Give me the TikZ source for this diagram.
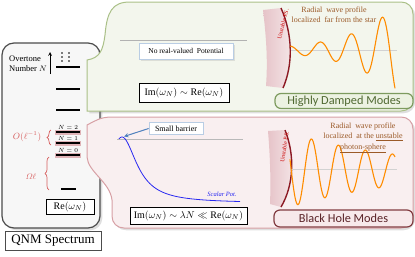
\documentclass[tikz,border=0pt]{standalone}
\usepackage{amsmath,amssymb}
\usepackage{fontspec}
\setmainfont{Liberation Serif}
\newfontfamily\modefont{Carlito}
\usetikzlibrary{decorations.pathreplacing,shadows}
\definecolor{greenedge}{RGB}{170,192,135}
\definecolor{greenfill}{RGB}{243,246,237}
\definecolor{greenbox}{RGB}{236,242,226}
\definecolor{greendark}{RGB}{125,155,95}
\definecolor{greentext}{RGB}{80,105,50}
\definecolor{pinkedge}{RGB}{215,160,165}
\definecolor{pinkfill}{RGB}{249,239,240}
\definecolor{pinkbox}{RGB}{247,233,235}
\definecolor{reddark}{RGB}{130,60,65}
\definecolor{redtext}{RGB}{90,35,40}
\definecolor{bracered}{RGB}{215,95,95}
\definecolor{wavebrown}{RGB}{155,90,40}
\definecolor{waveorange}{RGB}{255,140,0}
\definecolor{psred}{RGB}{140,25,35}
\definecolor{psfill}{RGB}{230,195,200}
\definecolor{potblue}{RGB}{40,40,240}
\definecolor{arrowblue}{RGB}{79,129,189}
\definecolor{tagblue}{RGB}{185,205,228}

\begin{document}
\begin{tikzpicture}[x=1pt, y=-1pt, >=stealth, every node/.style={font=\small},
  level/.style={line width=2.4pt},
  glow/.style={line width=5pt, draw=pinkedge!80},
  formula/.style={draw=black, fill=white, line width=0.9pt, inner sep=0pt, font=\fontsize{10}{12}\selectfont},
  tagbox/.style={draw=tagblue, fill=white, line width=0.7pt, inner sep=0pt, font=\fontsize{7.5}{9}\selectfont},
  modebox/.style={rounded corners=6pt, line width=1.2pt, inner sep=0pt, font=\modefont\fontsize{12.3}{14}\selectfont},
  wave/.style={draw=waveorange, line width=1.1pt},
  axisline/.style={draw=gray!35, line width=0.6pt},
  psarc/.style={draw=psred, line width=1.4pt},
  pstext/.style={text=red!80!black, font=\fontsize{5.8}{6}\selectfont, inner sep=0pt},
  redbrace/.style={draw=bracered, decorate, decoration={brace, amplitude=4pt}, line width=0.7pt},
  profile/.style={text=wavebrown, align=center, inner sep=0pt, font=\fontsize{8}{10.5}\selectfont}]
\useasboundingbox (0,0) rectangle (415,257);

% spectrum panel
\draw[draw=gray!60!black, fill=gray!6, line width=1.2pt, rounded corners=12pt, drop shadow={opacity=0.25}] (2,43) rectangle (100,228);
\node[draw=gray!60!black, line width=0.8pt, minimum width=96pt, minimum height=19pt, inner sep=0pt, font=\fontsize{13}{15}\selectfont] (title) at (53,240.5) {QNM Spectrum};

% callouts
\draw[draw=greenedge, fill=greenfill, line width=1pt, drop shadow={opacity=0.25}]
  (87,111) -- (87,60) .. controls (100,58) and (103,50) .. (105,35) .. controls (107,12) and (112,2) .. (130,2)
  -- (401,2) .. controls (408,2) and (413,7) .. (413,14) -- (413,99) .. controls (413,106) and (408,111) .. (401,111) -- cycle;
\draw[draw=pinkedge, fill=pinkfill, line width=1pt, drop shadow={opacity=0.25}]
  (87,157) -- (87,125) .. controls (95,121) and (100,117) .. (112,117) -- (401,117) .. controls (408,117) and (413,122) .. (413,129)
  -- (413,216) .. controls (413,223) and (408,228) .. (401,228) -- (124,228) .. controls (117,228) and (112,223) .. (112,216)
  -- (112,200) .. controls (110,182) and (88,172) .. (87,157) -- cycle;

% levels
\node[anchor=west, align=left, inner sep=0pt, font=\fontsize{8.5}{10}\selectfont] (overtone) at (9,64) {Overtone\\Number $N$};
\coordinate (ovlow) at (50,74);
\coordinate (ovtop) at (50,52);
\draw[->, line width=0.7pt] (ovlow) -- (ovtop);
\foreach \x in {62,69} \foreach \y in {53,57,61} \fill (\x,\y) circle (0.8);
\foreach \y in {67,89,110} \draw[level] (56,\y) -- (80,\y);
\foreach \n/\y in {2/132,1/143,0/155} {
  \draw[glow] (55,\y) -- (81,\y);
  \draw[level] (56,\y) -- (80,\y);
  \node[font=\fontsize{6}{6}\selectfont, inner sep=0pt, anchor=south] (lbl\n) at (68,\y-2.2) {$N=\n$};
}
\draw[level] (61,189) -- (76,189);
\draw[redbrace] (51,145) -- (51,130);
\node[text=bracered, font=\fontsize{9}{9}\selectfont] (orderlbl) at (27,137) {$O(\ell^{-1})$};
\draw[redbrace] (49,190) -- (49,157);
\node[text=bracered, font=\fontsize{8.5}{9}\selectfont] (omegalbl) at (31,177) {$\varOmega\ell$};
\node[formula, minimum width=48pt, minimum height=15pt] (rebox) at (70,206.5) {$\mathrm{Re}(\omega_N)$};

% highly damped
\draw[draw=gray!60, line width=0.8pt] (120,40) -- (247,40);
\node[tagbox, minimum width=94pt, minimum height=16pt, drop shadow={opacity=0.2, shadow yshift=-2pt}] (noreal) at (186,51) {No real-valued\ \ Potential};
\node[formula, minimum width=90pt, minimum height=19pt] (imre) at (184,92.5) {$\mathrm{Im}(\omega_N) \sim \mathrm{Re}(\omega_N)$};
\shade[left color=psfill, right color=psfill!40] (263,10) -- (281,8) .. controls (293,35) and (293,65) .. (283,88) -- (266,86) .. controls (268,60) and (266,35) .. (263,10) -- cycle;
\draw[psarc] (281,8) .. controls (293,35) and (293,65) .. (283,88);
\node[pstext, rotate=76] (pstop) at (283,24) {Unstable P.S.};
\draw[axisline] (291,50) -- (397,50);
\draw[wave] plot[domain=290:395, samples=160] (\x, {50 - 4*exp(0.0228*(\x-290))*sin(11.6129*(\x-312.25))});
\node[profile] (proftop) at (334,14.5) {Radial\ \ wave profile\\localized\ \ far from the star};
\node[modebox, draw=greendark, fill=greenbox, text=greentext, minimum width=138pt, minimum height=15pt] (hdm) at (344,101) {Highly Damped Modes};

% black hole
\draw[draw=gray!55, line width=1pt] (117,139) -- (243,139);
\draw[draw=potblue, line width=0.8pt] plot[domain=119:240, samples=100] (\x, {203 - 66/(1+((\x-122)/18)^2)});
\node[text=potblue, font=\itshape\fontsize{6.5}{7}\selectfont] (scalar) at (222,194) {Scalar Pot.};
\node[tagbox, minimum width=54pt, minimum height=12pt, font=\fontsize{8}{9}\selectfont] (barrier) at (176,128.5) {Small barrier};
\coordinate (bump) at (124,136.5);
\draw[->, draw=arrowblue, line width=1pt] (barrier.west) -- (bump);
\node[formula, minimum width=117pt, minimum height=17pt] (imlam) at (188.5,215.5) {$\mathrm{Im}(\omega_N) \sim \lambda N \ll \mathrm{Re}(\omega_N)$};
\shade[left color=psfill, right color=psfill!40] (268,131) -- (285,130) .. controls (295,155) and (294,185) .. (281,207) -- (270,204) .. controls (271,180) and (270,155) .. (268,131) -- cycle;
\draw[psarc] (285,130) .. controls (295,155) and (294,185) .. (281,207);
\node[pstext, rotate=81] (psbot) at (284.5,147) {Unstable P.S.};
\draw[axisline] (290,169) -- (397,169);
\draw[wave] plot[domain=290:395, samples=160] (\x, {170 + 37*exp(-0.0082*(\x-290))*sin(13.3333*(\x-291.25))});
\node[profile] (profbot) at (363,137.5) {Radial\ \ wave profile\\localized\ \ at the \underline{unstable}\\\underline{photon-sphere}};
\node[modebox, draw=reddark, fill=pinkbox, text=redtext, minimum width=139pt, minimum height=17pt] (bhm) at (343.5,218.5) {Black Hole Modes};
\end{tikzpicture}
\end{document}
